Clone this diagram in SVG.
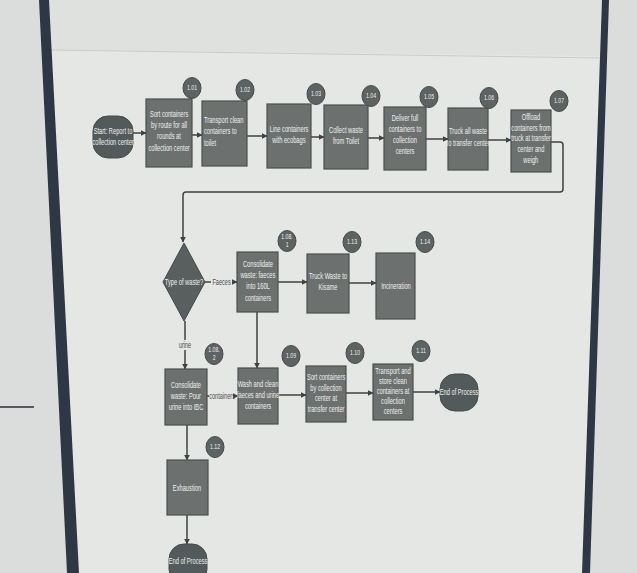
<svg xmlns="http://www.w3.org/2000/svg" width="637" height="573" viewBox="0 0 637 573">
<style>
.box{fill:#6c706f;stroke:#4b4f4e;stroke-width:1.2}
.term{fill:#525a5b;stroke:#444a4b;stroke-width:1}
.badge{fill:#5d6262;stroke:#474b4b;stroke-width:1}
.t{font-family:"Liberation Sans",Arial,sans-serif;font-size:8.4px;fill:#eef0ef;text-anchor:middle;transform-box:fill-box;transform-origin:center;transform:scaleX(0.68)}
.tl{text-anchor:start;transform-origin:left center}
.b{font-size:7.6px}
.lbl{font-family:"Liberation Sans",Arial,sans-serif;font-size:8.2px;fill:#4a4d4c;text-anchor:middle;transform-box:fill-box;transform-origin:center;transform:scaleX(0.68)}
.c{fill:none;stroke:#3e4241;stroke-width:1.5}
</style>
<defs>
<marker id="ah" viewBox="0 0 10 10" refX="9" refY="5" markerWidth="4" markerHeight="4" orient="auto">
<path d="M0,0 L10,5 L0,10 z" fill="#3e4241"/>
</marker>
</defs>
<!-- photo background -->
<rect x="0" y="0" width="637" height="573" fill="#dadddb"/>
<polygon points="48,0 604,0 586,573 78,573" fill="#e5e7e4"/>
<polygon points="48,0 604,0 603,56 50,50" fill="#dfe1de"/>
<line x1="50" y1="50" x2="603" y2="58" stroke="#c9ccca" stroke-width="1"/>
<polygon points="39,0 49,0 79,573 67,573" fill="#2f3744"/>
<polygon points="602,0 609,0 590,573 582,573" fill="#2f3744"/>
<line x1="0" y1="407" x2="34" y2="407" stroke="#555a5c" stroke-width="2"/>

<g id="connectors">
<line class="c" x1="133" y1="133" x2="146" y2="133" marker-end="url(#ah)"/>
<line class="c" x1="192" y1="135" x2="202" y2="135" marker-end="url(#ah)"/>
<line class="c" x1="247" y1="136" x2="267" y2="136" marker-end="url(#ah)"/>
<line class="c" x1="311" y1="137" x2="324" y2="137" marker-end="url(#ah)"/>
<line class="c" x1="368" y1="138" x2="384" y2="138" marker-end="url(#ah)"/>
<line class="c" x1="426" y1="139" x2="448" y2="139" marker-end="url(#ah)"/>
<line class="c" x1="488" y1="140" x2="511" y2="140" marker-end="url(#ah)"/>
<path class="c" d="M551,142 H560 Q563,142 563,145 V189 Q563,192 560,192 H186 Q183,192 183,195 V242" marker-end="url(#ah)"/>
<line class="c" x1="205" y1="282" x2="211" y2="282"/>
<line class="c" x1="232" y1="282" x2="237" y2="282" marker-end="url(#ah)"/>
<line class="c" x1="278" y1="282" x2="307" y2="282" marker-end="url(#ah)"/>
<line class="c" x1="349" y1="283" x2="376" y2="283" marker-end="url(#ah)"/>
<line class="c" x1="257" y1="312" x2="257" y2="368" marker-end="url(#ah)"/>
<line class="c" x1="185" y1="321" x2="185" y2="340"/>
<line class="c" x1="185" y1="350" x2="185" y2="369" marker-end="url(#ah)"/>
<line class="c" x1="207" y1="396" x2="209" y2="396"/>
<line class="c" x1="235" y1="396" x2="238" y2="396" marker-end="url(#ah)"/>
<line class="c" x1="278" y1="395" x2="306" y2="395" marker-end="url(#ah)"/>
<line class="c" x1="346" y1="393" x2="373" y2="393" marker-end="url(#ah)"/>
<line class="c" x1="413" y1="392" x2="440" y2="392" marker-end="url(#ah)"/>
<line class="c" x1="187" y1="425" x2="187" y2="460" marker-end="url(#ah)"/>
<line class="c" x1="187" y1="515" x2="187" y2="544" marker-end="url(#ah)"/>
<text class="lbl" x="221.5" y="285">Faeces</text>
<text class="lbl" x="185" y="348">urine</text>
<text class="lbl" x="222" y="399">containers</text>
</g>

<g id="start">
<rect class="term" x="93" y="116" width="40" height="42" rx="15"/>
<text class="t" x="113" y="134">Start: Report to</text>
<text class="t" x="113" y="145">collection center</text>
</g>
<g id="n101">
<rect class="box" x="146" y="99" width="46" height="68"/>
<text class="t" x="169" y="117">Sort containers</text>
<text class="t" x="169" y="128">by route for all</text>
<text class="t" x="169" y="139">rounds at</text>
<text class="t" x="169" y="151">collection center</text>
<ellipse class="badge" cx="192" cy="88" rx="9" ry="10.5"/>
<text class="t b" x="192" y="90.5">1.01</text>
</g>
<g id="n102">
<rect class="box" x="202" y="101" width="45" height="65"/>
<text class="t tl" x="204" y="123">Transport clean</text>
<text class="t tl" x="204" y="134">containers to</text>
<text class="t tl" x="204" y="146">toilet</text>
<ellipse class="badge" cx="245" cy="90" rx="9" ry="10.5"/>
<text class="t b" x="245" y="92.5">1.02</text>
</g>
<g id="n103">
<rect class="box" x="267" y="104" width="44" height="64"/>
<text class="t" x="289" y="132">Line containers</text>
<text class="t" x="289" y="143">with ecobags</text>
<ellipse class="badge" cx="316" cy="94" rx="9" ry="10.5"/>
<text class="t b" x="316" y="96.5">1.03</text>
</g>
<g id="n104">
<rect class="box" x="324" y="105" width="44" height="64"/>
<text class="t" x="346" y="133">Collect waste</text>
<text class="t" x="346" y="144">from Toilet</text>
<ellipse class="badge" cx="371" cy="96" rx="9" ry="10.5"/>
<text class="t b" x="371" y="98.5">1.04</text>
</g>
<g id="n105">
<rect class="box" x="384" y="107" width="42" height="63"/>
<text class="t" x="405" y="121">Deliver full</text>
<text class="t" x="405" y="132">containers to</text>
<text class="t" x="405" y="143">collection</text>
<text class="t" x="405" y="154">centers</text>
<ellipse class="badge" cx="429" cy="97" rx="9" ry="10.5"/>
<text class="t b" x="429" y="99.5">1.05</text>
</g>
<g id="n106">
<rect class="box" x="448" y="108" width="40" height="62"/>
<text class="t" x="468" y="134">Truck all waste</text>
<text class="t" x="468" y="146">to transfer center</text>
<ellipse class="badge" cx="489" cy="98" rx="9" ry="10.5"/>
<text class="t b" x="489" y="100.5">1.06</text>
</g>
<g id="n107">
<rect class="box" x="511" y="110" width="40" height="62"/>
<text class="t" x="531" y="120">Offload</text>
<text class="t" x="531" y="131">containers from</text>
<text class="t" x="531" y="141">truck at transfer</text>
<text class="t" x="531" y="152">center and</text>
<text class="t" x="531" y="163">weigh</text>
<ellipse class="badge" cx="559" cy="101" rx="9" ry="10.5"/>
<text class="t b" x="559" y="103.5">1.07</text>
</g>
<g id="decision">
<polygon points="184,243 205,282 184,321 163,282" fill="#595e5e" stroke="#444948" stroke-width="1"/>
<text class="t" x="184" y="285">Type of waste?</text>
</g>
<g id="n1081">
<rect class="box" x="237" y="252" width="41" height="60"/>
<text class="t" x="258" y="267">Consolidate</text>
<text class="t" x="258" y="278">waste: faeces</text>
<text class="t" x="258" y="289">into 160L</text>
<text class="t" x="258" y="301">containers</text>
<ellipse class="badge" cx="287" cy="241" rx="9" ry="10.5"/>
<text class="t b" x="287" y="239">1.08.</text>
<text class="t b" x="287" y="247">1</text>
</g>
<g id="n113">
<rect class="box" x="307" y="254" width="42" height="59"/>
<text class="t" x="328" y="279">Truck Waste to</text>
<text class="t" x="328" y="290">Kisame</text>
<ellipse class="badge" cx="352" cy="242" rx="9" ry="10.5"/>
<text class="t b" x="352" y="244.5">1.13</text>
</g>
<g id="n114">
<rect class="box" x="376" y="253" width="39" height="66"/>
<text class="t" x="396" y="289">Incineration</text>
<ellipse class="badge" cx="425" cy="242" rx="9" ry="10.5"/>
<text class="t b" x="425" y="244.5">1.14</text>
</g>
<g id="n1082">
<rect class="box" x="165" y="369" width="42" height="56"/>
<text class="t" x="186" y="388">Consolidate</text>
<text class="t" x="186" y="399">waste: Pour</text>
<text class="t" x="186" y="410">urine into IBC</text>
<ellipse class="badge" cx="214" cy="354" rx="9" ry="10.5"/>
<text class="t b" x="214" y="352">1.08.</text>
<text class="t b" x="214" y="360">2</text>
</g>
<g id="n109">
<rect class="box" x="238" y="368" width="40" height="56"/>
<text class="t" x="258" y="387">Wash and clean</text>
<text class="t" x="258" y="398">faeces and urine</text>
<text class="t" x="258" y="409">containers</text>
<ellipse class="badge" cx="291" cy="356" rx="9" ry="10.5"/>
<text class="t b" x="291" y="358.5">1.09</text>
</g>
<g id="n110">
<rect class="box" x="306" y="366" width="40" height="56"/>
<text class="t" x="326" y="380">Sort containers</text>
<text class="t" x="326" y="391">by collection</text>
<text class="t" x="326" y="401">center at</text>
<text class="t" x="326" y="412">transfer center</text>
<ellipse class="badge" cx="355" cy="353" rx="9" ry="10.5"/>
<text class="t b" x="355" y="355.5">1.10</text>
</g>
<g id="n111">
<rect class="box" x="373" y="364" width="40" height="56"/>
<text class="t" x="393" y="374">Transport and</text>
<text class="t" x="393" y="384">store clean</text>
<text class="t" x="393" y="394">containers at</text>
<text class="t" x="393" y="404">collection</text>
<text class="t" x="393" y="414">centers</text>
<ellipse class="badge" cx="421" cy="351" rx="9" ry="10.5"/>
<text class="t b" x="421" y="353.5">1.11</text>
</g>
<g id="end1">
<rect class="term" x="440" y="374" width="38" height="37" rx="15"/>
<text class="t" x="459" y="395">End of Process</text>
</g>
<g id="n112">
<rect class="box" x="167" y="460" width="41" height="55"/>
<text class="t" x="187" y="491">Exhaustion</text>
<ellipse class="badge" cx="215" cy="447" rx="9" ry="10.5"/>
<text class="t b" x="215" y="449.5">1.12</text>
</g>
<g id="end2">
<rect class="term" x="169" y="544" width="38" height="40" rx="15"/>
<text class="t" x="188" y="564">End of Process</text>
</g>
</svg>
